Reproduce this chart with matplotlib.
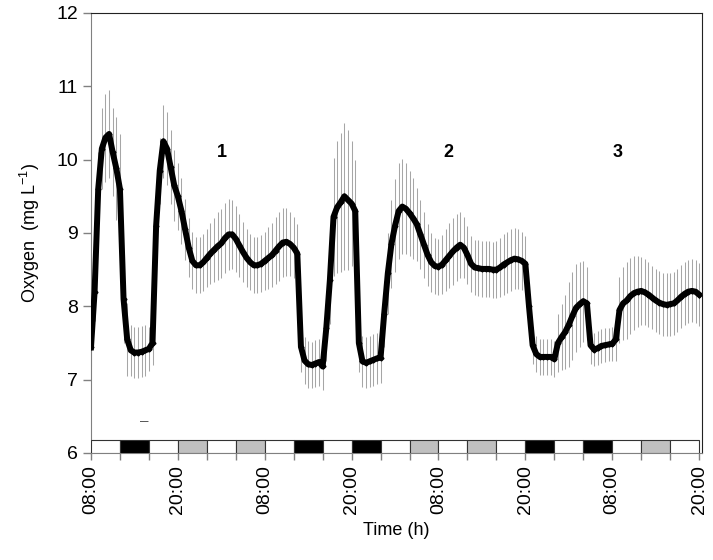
import numpy as np
import matplotlib
matplotlib.use("Agg")
import matplotlib.pyplot as plt

plt.rcParams['font.family'] = ['Liberation Sans', 'DejaVu Sans']

# half-hourly samples, hours after 08:00 on day 1
hours = np.arange(0, 84.5, 0.5)

oxygen = [
    7.44, 8.20, 9.60, 10.15, 10.30, 10.35, 10.10, 9.88, 9.60, 8.10,   # 0 - 4.5
    7.55, 7.40, 7.37, 7.37, 7.38, 7.40, 7.42, 7.50, 9.10, 9.85,       # 5 - 9.5
    10.25, 10.15, 9.90, 9.65, 9.50, 9.30, 9.05, 8.80, 8.62, 8.56,     # 10 - 14.5
    8.56, 8.60, 8.66, 8.72, 8.77, 8.82, 8.86, 8.93, 8.98, 8.98,       # 15 - 19.5
    8.92, 8.83, 8.74, 8.66, 8.60, 8.56, 8.56, 8.58, 8.62, 8.66,       # 20 - 24.5
    8.70, 8.76, 8.82, 8.87, 8.88, 8.85, 8.80, 8.72, 7.45, 7.26,       # 25 - 29.5
    7.21, 7.20, 7.22, 7.24, 7.18, 7.70, 8.36, 9.22, 9.35, 9.42,       # 30 - 34.5
    9.50, 9.45, 9.40, 9.30, 7.50, 7.25, 7.23, 7.25, 7.27, 7.29,       # 35 - 39.5
    7.30, 7.90, 8.45, 8.85, 9.10, 9.30, 9.36, 9.33, 9.27, 9.20,       # 40 - 44.5
    9.12, 8.98, 8.84, 8.70, 8.60, 8.55, 8.54, 8.57, 8.63, 8.69,       # 45 - 49.5
    8.75, 8.80, 8.84, 8.80, 8.70, 8.58, 8.53, 8.52, 8.51, 8.51,       # 50 - 54.5
    8.51, 8.50, 8.50, 8.53, 8.57, 8.60, 8.63, 8.65, 8.64, 8.62,       # 55 - 59.5
    8.58, 8.00, 7.47, 7.35, 7.31, 7.31, 7.31, 7.31, 7.28, 7.50,       # 60 - 64.5
    7.58, 7.65, 7.75, 7.87, 7.98, 8.03, 8.07, 8.04, 7.47, 7.41,       # 65 - 69.5
    7.43, 7.46, 7.47, 7.48, 7.49, 7.55, 7.95, 8.04, 8.08, 8.14,       # 70 - 74.5
    8.18, 8.20, 8.21, 8.19, 8.16, 8.12, 8.08, 8.05, 8.03, 8.02,       # 75 - 79.5
    8.03, 8.04, 8.08, 8.13, 8.17, 8.20, 8.21, 8.20, 8.16,             # 80 - 84
]

oxygen_sd = [
    0.25, 0.40, 0.50, 0.55, 0.60, 0.60, 0.60, 0.70, 0.75, 0.60,
    0.50, 0.35, 0.35, 0.35, 0.35, 0.35, 0.30, 0.30, 0.35, 0.45,
    0.50, 0.50, 0.50, 0.48, 0.46, 0.45, 0.42, 0.40, 0.39, 0.38,
    0.38, 0.39, 0.40, 0.42, 0.44, 0.46, 0.47, 0.48, 0.48, 0.47,
    0.45, 0.43, 0.41, 0.39, 0.38, 0.38, 0.38, 0.39, 0.40, 0.42,
    0.44, 0.46, 0.47, 0.47, 0.46, 0.44, 0.42, 0.40, 0.35, 0.32,
    0.32, 0.32, 0.32, 0.32, 0.32, 0.45, 0.60, 0.80, 0.90, 0.95,
    1.00, 0.95, 0.85, 0.70, 0.40, 0.35, 0.35, 0.35, 0.35, 0.35,
    0.35, 0.45, 0.55, 0.60, 0.63, 0.65, 0.65, 0.62, 0.58, 0.55,
    0.50, 0.47, 0.45, 0.42, 0.40, 0.38, 0.38, 0.40, 0.42, 0.44,
    0.46, 0.46, 0.45, 0.42, 0.40, 0.38, 0.38, 0.38, 0.38, 0.38,
    0.38, 0.38, 0.39, 0.40, 0.41, 0.42, 0.42, 0.42, 0.41, 0.40,
    0.38, 0.30, 0.25, 0.25, 0.25, 0.25, 0.25, 0.25, 0.25, 0.40,
    0.45, 0.50, 0.58, 0.60, 0.60, 0.58, 0.55, 0.50, 0.25, 0.23,
    0.23, 0.23, 0.23, 0.23, 0.23, 0.30, 0.45, 0.50, 0.52, 0.52,
    0.50, 0.48, 0.46, 0.45, 0.44, 0.43, 0.43, 0.43, 0.43, 0.43,
    0.43, 0.43, 0.43, 0.43, 0.43, 0.43, 0.43, 0.43, 0.43,
]

# light regime bar, one box per 4 h: W = light, B = dark, G = twilight
light_blocks = list("WBWGWGWBWBWGWGWBWBWGW")
block_colors = {"W": "white", "B": "black", "G": "#c0c0c0"}

tick_labels = ["08:00", "20:00"] * 4
phase_labels = [(18.1, "1"), (49.3, "2"), (72.7, "3")]

fig = plt.figure(figsize=(7.13, 5.6), dpi=100)
ax = fig.add_axes([0.1276, 0.1911, 0.8570, 0.7857])

ax.errorbar(hours, oxygen, yerr=oxygen_sd, fmt='none', ecolor='#a6a6a6',
            elinewidth=0.75, capsize=0, zorder=2)
ax.plot(hours, oxygen, color='black', lw=4.3, marker='D', ms=2.5,
        solid_joinstyle='round', zorder=3)

starts = np.arange(len(light_blocks)) * 4
ax.bar(starts, 0.18, width=4, bottom=6, align='edge',
       color=[block_colors[c] for c in light_blocks],
       edgecolor='#333333', linewidth=0.8, zorder=4)

for x, s in phase_labels:
    ax.text(x, 10.1, s, fontsize=13, fontweight='bold', ha='center', va='center')
ax.text(7.3, 6.43, "–", fontsize=11, color='#555555', ha='center', va='center')

ax.set_xlim(0, 84.4)
ax.set_ylim(6, 12)
ax.set_yticks(range(6, 13))
ax.set_xticks(np.arange(0, 85, 4), minor=True)
ax.set_xticks(np.arange(0, 85, 12))
ax.set_xticklabels(tick_labels, rotation=90)
ax.tick_params(axis='both', which='both', direction='out',
               labelsize=14, labelcolor='black')
ax.tick_params(axis='y', length=6, width=1, color='#808080')
ax.tick_params(axis='x', which='both', length=5, width=1, color='#808080')

for side in ['left', 'bottom']:
    ax.spines[side].set_color('#808080')
for side in ['top', 'right']:
    ax.spines[side].set_color('#222222')

ax.set_ylabel("Oxygen  (mg L$^{\\mathregular{-1}}$)", fontsize=13, labelpad=10)
ax.set_xlabel("Time (h)", fontsize=13, labelpad=6)

fig.savefig("out.png", dpi=100)
